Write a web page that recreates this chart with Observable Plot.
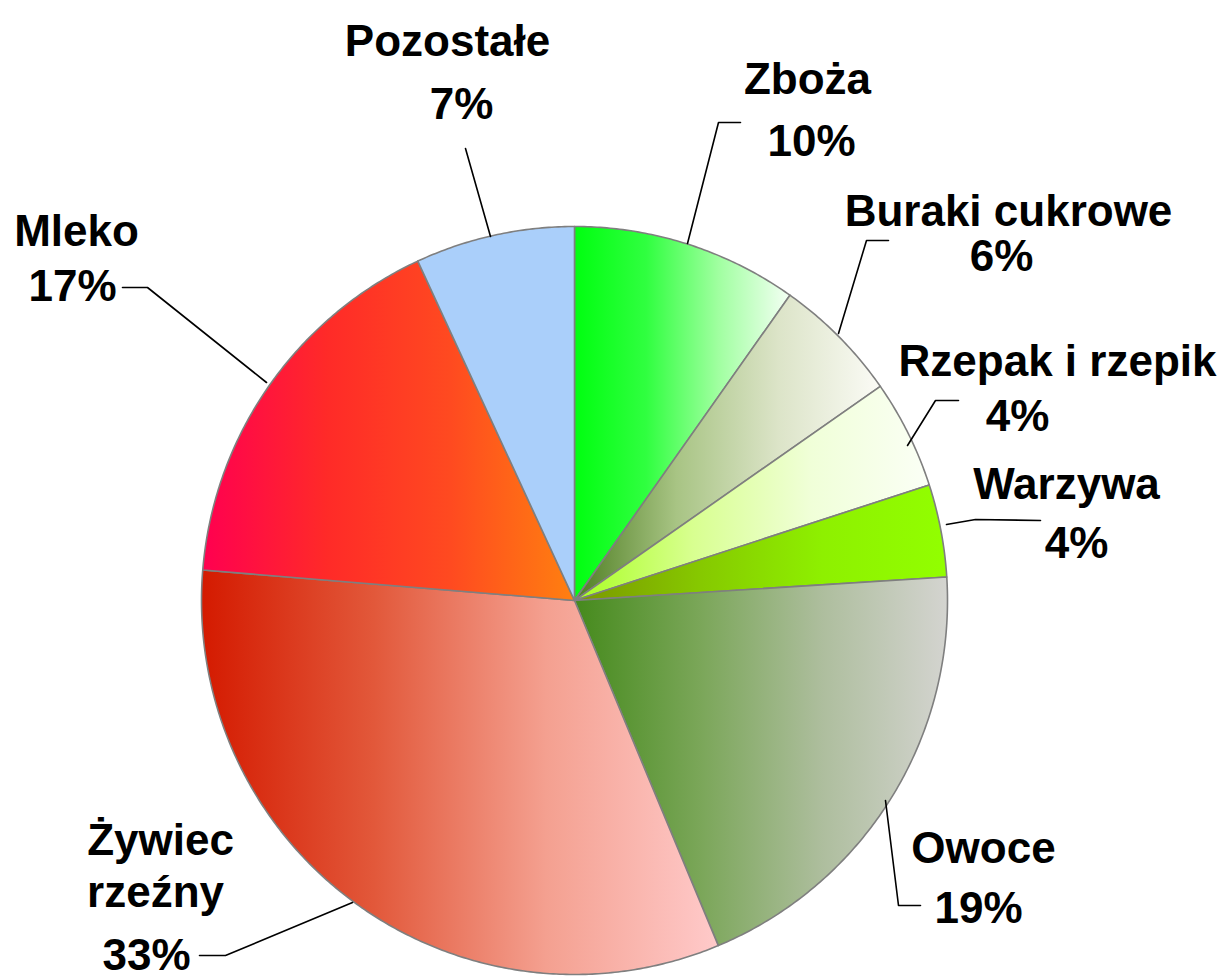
<!DOCTYPE html>
<html>
<head>
<meta charset="utf-8">
<script src="https://cdn.jsdelivr.net/npm/d3@7"></script>
<script src="https://cdn.jsdelivr.net/npm/@observablehq/plot@0.6"></script>
<style>
  html, body { margin: 0; padding: 0; background: #ffffff; }
  #chart svg { display: block; }
</style>
</head>
<body>
<div id="chart"></div>
<script>
// ---------- data ----------
const categories = ["Zboża", "Buraki cukrowe", "Rzepak i rzepik", "Warzywa", "Owoce", "Żywiec rzeźny", "Mleko", "Pozostałe"];
const shares = [9.8, 5.5, 4.7, 4.0, 19.7, 32.6, 16.8, 6.9];
const percentLabels = ["10%", "6%", "4%", "4%", "19%", "33%", "17%", "7%"];

// ---------- styles ----------
const sliceGradients = [
  ["#00ff10", "#30ff40", "#a0ffa0", "#f4fff4"],   // Zboża
  ["#4e7e22", "#a8c484", "#dce4c8", "#fbfbf6"],   // Buraki cukrowe
  ["#a8ff20", "#d8ff90", "#f0ffd8", "#fbfff6"],   // Rzepak i rzepik
  ["#7a9600", "#86c800", "#8ef000", "#92ff00"],   // Warzywa
  ["#458a1c", "#7aa658", "#aebe9e", "#d4d4d0"],   // Owoce
  ["#d41a00", "#e2583a", "#f4a090", "#ffcaca"],   // Żywiec rzeźny
  ["#ff0050", "#ff2a28", "#ff4a20", "#ff8010"],   // Mleko
  ["#aacffa", "#aacffa"]                           // Pozostałe
];

// ---------- layout (pixels) ----------
const W = 1226, H = 979;
const CX = 574, CY = 600, RX = 373, RY = 374;
const FONT = 44;
const labelLayout = [
  {lines: [[807, 79, "name"], [811, 141, "pct"]], leader: [[740, 122], [718, 122], [687, 243]]},
  {lines: [[1008, 211, "name"], [1001, 256, "pct"]], leader: [[888, 240], [866, 240], [838, 333]]},
  {lines: [[1057, 361, "name"], [1017, 416, "pct"]], leader: [[958, 400], [935, 400], [907, 445]]},
  {lines: [[1066, 484, "name"], [1076, 543, "pct"]], leader: [[1040, 520], [975, 519], [946, 524]]},
  {lines: [[983, 848, "name"], [978, 908, "pct"]], leader: [[885, 800], [898, 905], [920, 905]]},
  {lines: [[160, 840, "Żywiec"], [155, 892, "rzeźny"], [146, 955, "pct"]], leader: [[199, 955], [225, 955], [352, 902]]},
  {lines: [[76, 231, "name"], [72, 286, "pct"]], leader: [[122, 287], [147, 287], [266, 382]]},
  {lines: [[447, 41, "name"], [461, 104, "pct"]], leader: [[465, 148], [490, 236]]}
];

// pixel -> data (unit circle) helpers matching the scales below
const ux = px => (px - CX) / RX;
const uy = py => (CY - py) / RY;

// ---------- derived geometry ----------
const arcs = d3.pie().sort(null).value(d => d)(shares);
const slicePoints = arcs.map((a, i) => {
  const pts = [{x: 0, y: 0}];
  const n = Math.max(2, Math.ceil((a.endAngle - a.startAngle) / (Math.PI / 360)));
  for (let k = 0; k <= n; k++) {
    const t = a.startAngle + (a.endAngle - a.startAngle) * k / n;
    pts.push({x: Math.sin(t), y: Math.cos(t)});
  }
  pts.push({x: 0, y: 0});
  return pts;
});

const texts = [];
const leaders = [];
labelLayout.forEach((L, i) => {
  L.lines.forEach(([px, py, what]) => {
    const t = what === "name" ? categories[i] : what === "pct" ? percentLabels[i] : what;
    texts.push({x: ux(px), y: uy(py), text: t});
  });
  L.leader.forEach(([px, py]) => leaders.push({id: i, x: ux(px), y: uy(py)}));
});

const sliceMarks = slicePoints.map((pts, i) =>
  Plot.line(pts, {x: "x", y: "y", fill: `url(#grad${i})`, stroke: "#7f7f7f", strokeWidth: 1.6, strokeLinejoin: "round"})
);

const svg = Plot.plot({
  width: W,
  height: H,
  margin: 0,
  style: {background: "#ffffff", overflow: "visible"},
  x: {domain: [ux(0), ux(W)], range: [0, W], axis: null},
  y: {domain: [uy(H), uy(0)], range: [H, 0], axis: null},
  marks: [
    ...sliceMarks,
    Plot.line(leaders, {x: "x", y: "y", z: "id", stroke: "#000000", strokeWidth: 1.6}),
    Plot.text(texts, {
      x: "x", y: "y", text: "text",
      fontSize: FONT, fontWeight: "bold",
      fontFamily: "'Liberation Sans', Arial, Helvetica, sans-serif",
      fill: "#000000", textAnchor: "middle", lineAnchor: "middle"
    })
  ]
});

// gradient definitions (horizontal, across each slice's bounding box)
const defs = d3.select(svg).insert("defs", ":first-child");
sliceGradients.forEach((stops, i) => {
  const g = defs.append("linearGradient")
    .attr("id", `grad${i}`).attr("x1", 0).attr("x2", 1).attr("y1", 0).attr("y2", 0);
  stops.forEach((c, j) => g.append("stop").attr("offset", j / (stops.length - 1)).attr("stop-color", c));
});

document.getElementById("chart").appendChild(svg);
</script>
</body>
</html>
